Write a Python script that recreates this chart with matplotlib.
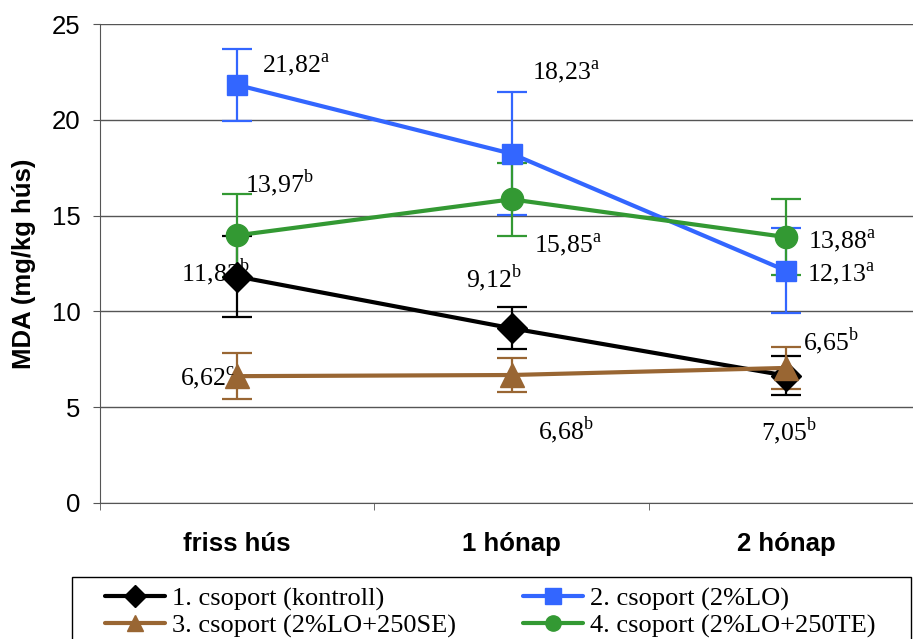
import matplotlib
matplotlib.use('Agg')
import matplotlib.pyplot as plt
from matplotlib.patches import Rectangle

# ---------------- data ----------------
categories = ['friss hús', '1 hónap', '2 hónap']
series_names = ['1. csoport (kontroll)', '2. csoport (2%LO)',
                '3. csoport (2%LO+250SE)', '4. csoport (2%LO+250TE)']
kontroll = [11.82, 9.12, 6.65]
lo = [21.82, 18.23, 12.13]
lo_se = [6.62, 6.68, 7.05]
lo_te = [13.97, 15.85, 13.88]
kontroll_err = [2.1, 1.1, 1.0]
lo_err = [1.9, 3.2, 2.2]
lo_se_err = [1.2, 0.9, 1.1]
lo_te_err = [2.15, 1.9, 2.0]
kontroll_sig = ['b', 'b', 'b']
lo_sig = ['a', 'a', 'a']
lo_se_sig = ['c', 'b', 'b']
lo_te_sig = ['b', 'a', 'a']
yticks = [0, 5, 10, 15, 20, 25]
ylabel = 'MDA (mg/kg hús)'

# ---------------- style ----------------
plt.rcParams['mathtext.fontset'] = 'custom'
plt.rcParams['mathtext.rm'] = 'Liberation Serif'
SERIF = 'Liberation Serif'
SANS = 'Liberation Sans'
FS = 18.5

colors = ['#000000', '#3366FF', '#996633', '#339933']
markers = ['D', 's', '^', 'o']
msizes = [15, 14.5, 17, 16]
# label offsets in pixels (dx, dy) for each series / category
offsets = [
    [(-56, -5), (-46, 41), (17, 25)],
    [(25, 12), (20, 74), (21, -11)],
    [(-57, -10), (26, -64), (-25, -72)],
    [(8, 43), (23, -54), (22, -12)],
]

values = [kontroll, lo, lo_se, lo_te]
errors = [kontroll_err, lo_err, lo_se_err, lo_te_err]
sigs = [kontroll_sig, lo_sig, lo_se_sig, lo_te_sig]

W, H = 913, 639
fig = plt.figure(figsize=(W / 100, H / 100), dpi=100)
ax = fig.add_axes([100 / W, 1 - 503 / H, 823 / W, 479 / H])
ax.set_xlim(-0.5, 2.5)
ax.set_ylim(0, 25)

x = list(range(len(categories)))
handles = []
for i in range(4):
    ax.errorbar(x, values[i], yerr=errors[i], fmt='none', ecolor=colors[i],
                elinewidth=1.6, capsize=11, capthick=1.6, zorder=2 + 0.1 * i)
    ln, = ax.plot(x, values[i], color=colors[i], lw=3, marker=markers[i],
                  markersize=msizes[i], zorder=4 + i, solid_capstyle='round')
    handles.append(ln)
    for j in range(len(x)):
        txt = f"{values[i][j]:.2f}".replace('.', ',') + r'$^{\mathrm{' + sigs[i][j] + '}}$'
        ax.annotate(txt, (x[j], values[i][j]), xytext=offsets[i][j],
                    textcoords='offset pixels', ha='left', va='baseline',
                    fontsize=FS, family=SERIF, zorder=10)

# grid / axes
ax.set_yticks(yticks)
ax.yaxis.grid(True, color='#555555', lw=1)
ax.set_axisbelow(True)
for s in ['top', 'right']:
    ax.spines[s].set_visible(False)
ax.spines['left'].set_color('#555555')
ax.spines['bottom'].set_color('#555555')
ax.tick_params(axis='y', direction='out', length=5, color='#555555',
               labelsize=FS, pad=9)
for lab in ax.get_yticklabels():
    lab.set_family(SANS)

ax.set_xticks(x)
ax.set_xticklabels(categories, fontsize=FS, fontweight='bold', family=SANS)
ax.tick_params(axis='x', which='major', length=0, pad=21)
ax.set_xticks([-0.5, 0.5, 1.5, 2.5], minor=True)
ax.tick_params(axis='x', which='minor', direction='out', length=5, color='#555555')

ax.set_ylabel(ylabel, fontsize=FS, fontweight='bold', family=SANS)
ax.yaxis.set_label_coords(-64 / 823, 0.5)

# legend
LFS = 19
order = [0, 2, 1, 3]
leg = fig.legend([handles[k] for k in order], [series_names[k] for k in order],
                 loc='upper left', bbox_to_anchor=(105 / W, 1 - 587 / H),
                 ncol=2, frameon=False, prop={'family': SERIF, 'size': LFS},
                 handlelength=2.27, handletextpad=0.27, columnspacing=2.55,
                 labelspacing=0.12, borderpad=0, borderaxespad=0, numpoints=1)
for h in leg.legend_handles:
    h.set_markersize(11)
fig.patches.append(Rectangle((72 / W, -0.1), (911 - 72) / W, 0.1 + 1 - 577 / H,
                             transform=fig.transFigure, fill=False,
                             edgecolor='black', lw=1))

fig.savefig('out.png', dpi=100)
